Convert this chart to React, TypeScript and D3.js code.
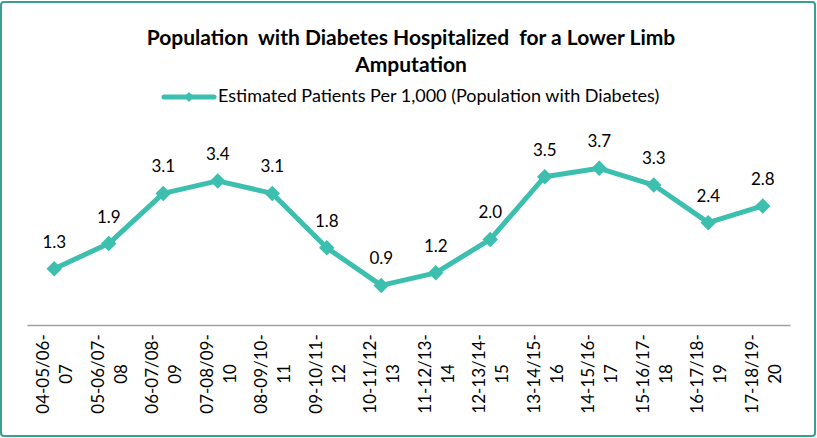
import React, { useEffect, useRef } from "react";
import * as d3 from "d3";

const categories = [
  "04-05/06-07", "05-06/07-08", "06-07/08-09", "07-08/09-10", "08-09/10-11",
  "09-10/11-12", "10-11/12-13", "11-12/13-14", "12-13/14-15", "13-14/15-16",
  "14-15/16-17", "15-16/17-18", "16-17/18-19", "17-18/19-20",
];
const values = [1.3, 1.9, 3.1, 3.4, 3.1, 1.8, 0.9, 1.2, 2.0, 3.5, 3.7, 3.3, 2.4, 2.8];
const titleLines = ["Population  with Diabetes Hospitalized  for a Lower Limb", "Amputation"];
const seriesName = "Estimated Patients Per 1,000 (Population with Diabetes)";

const W = 817;
const H = 438;
const LINE = "#3cbfae";
const FONT = "Lato, 'Open Sans', sans-serif";

export default function App() {
  const ref = useRef<SVGSVGElement>(null);

  useEffect(() => {
    if (!ref.current) return;
    const svg = d3.select(ref.current);
    svg.selectAll("*").remove();

    svg.append("rect")
      .attr("x", 1).attr("y", 2).attr("width", W - 3).attr("height", H - 4)
      .attr("rx", 3)
      .attr("fill", "#fff").attr("stroke", "#3a9e90").attr("stroke-width", 2);

    const t = svg.append("text")
      .attr("text-anchor", "middle")
      .style("font-family", FONT).style("font-weight", "bold").style("font-size", "21px")
      .attr("fill", "#000");
    titleLines.forEach((s, i) => {
      t.append("tspan").attr("x", 411).attr("y", 45 + i * 27).attr("xml:space", "preserve").text(s);
    });

    // legend
    const lg = svg.append("g").attr("transform", "translate(164,97)");
    lg.append("line").attr("x1", 0).attr("x2", 50).attr("y1", 0).attr("y2", 0)
      .attr("stroke", LINE).attr("stroke-width", 5).attr("stroke-linecap", "round");
    lg.append("path").attr("d", d3.symbol(d3.symbolSquare, 50)()!)
      .attr("transform", "translate(25,0) rotate(45)").attr("fill", LINE);
    lg.append("text").attr("x", 54).attr("y", 4.5)
      .style("font-family", FONT).style("font-size", "18px").attr("fill", "#000")
      .text(seriesName);

    const x = d3.scaleBand().domain(categories).range([27, 790]);
    const y = d3.scaleLinear().domain([0, 4]).range([323, 323 - 4 * 41.8]);
    const cx = (c: string) => (x(c) || 0) + x.bandwidth() / 2;

    const ax = svg.append("g").attr("transform", "translate(0,325)")
      .call(d3.axisBottom(x).tickSize(0).tickFormat(() => ""));
    ax.select(".domain").attr("stroke", "#a0a0a0").attr("stroke-width", 1.5);

    // rotated two-line category labels
    categories.forEach((c) => {
      const m = c.indexOf("/");
      const parts = [c.slice(0, m + 4), c.slice(m + 4)];
      const g = svg.append("g").attr("transform", `translate(${cx(c)},374) rotate(-90)`);
      parts.forEach((p, i) => {
        g.append("text")
          .attr("x", 0).attr("y", i === 0 ? -5 : 18)
          .attr("text-anchor", "middle")
          .style("font-family", FONT).style("font-size", "17px").attr("fill", "#000")
          .text(p);
      });
    });

    const line = d3.line<number>().x((_d, i) => cx(categories[i])).y((d) => y(d));
    svg.append("path").datum(values)
      .attr("d", line).attr("fill", "none")
      .attr("stroke", LINE).attr("stroke-width", 5).attr("stroke-linejoin", "round");

    svg.selectAll(".pt").data(values).enter().append("path")
      .attr("d", d3.symbol(d3.symbolSquare, 120)()!)
      .attr("transform", (d, i) => `translate(${cx(categories[i])},${y(d)}) rotate(45)`)
      .attr("fill", LINE);

    svg.selectAll(".lbl").data(values).enter().append("text")
      .attr("x", (_d, i) => cx(categories[i]))
      .attr("y", (d) => y(d) - 21)
      .attr("text-anchor", "middle")
      .style("font-family", FONT).style("font-size", "17px").attr("fill", "#000")
      .text((d) => d.toFixed(1));
  }, []);

  return (
    <svg ref={ref} width={W} height={H} style={{ position: "absolute", left: 0, top: 0 }} />
  );
}
